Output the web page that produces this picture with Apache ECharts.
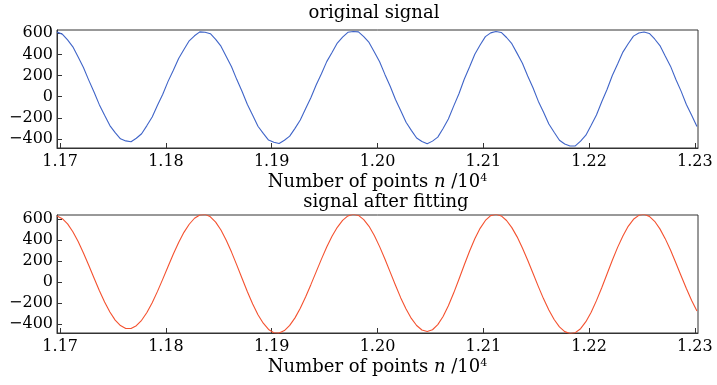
<!DOCTYPE html>
<html>
<head>
<meta charset="utf-8">
<script src="https://cdn.jsdelivr.net/npm/echarts@6/dist/echarts.min.js"></script>
<style>
html,body{margin:0;padding:0;background:#fff;}
#chart{width:717px;height:385px;}
</style>
</head>
<body>
<div id="chart"></div>
<script>
// sample positions (units of 10^4 points)
const X_START = 1.1697;
const X_STEP = 0.0005;

const xTicks = [1.17, 1.18, 1.19, 1.20, 1.21, 1.22, 1.23];
const yTicks = [-400, -200, 0, 200, 400, 600];

const originalSignal = [
  611, 592, 537, 472, 375, 276, 157, 45, -75, -176, -273, -340, -398, -418,
  -426, -393, -350, -273, -191, -81, 23, 145, 250, 362, 447, 529, 576, 613,
  610, 596, 542, 478, 381, 284, 162, 49, -74, -176, -279, -347, -410, -431,
  -442, -412, -373, -299, -220, -113, -10, 111, 218, 332, 419, 508, 563, 609, 617,
  613, 568, 513, 423, 331, 211, 99, -27, -132, -241, -318, -391, -423,
  -444, -420, -382, -301, -211, -89, 28, 165, 281, 402, 489, 568, 604,
  617, 608, 560, 502, 410, 316, 196, 85, -42, -147, -258, -336, -412, -447, -466,
  -465, -420, -364, -270, -173, -48, 68, 201, 310, 422, 501, 573, 603,
  612, 598, 546, 484, 386, 289, 165, 53, -74, -176, -281
];

const fittedSignal = [
  628, 603, 553, 479, 386, 277, 159, 38, -81, -190, -285, -362, -414, -442,
  -442, -415, -364, -290, -197, -89, 28, 148, 266, 376, 473, 550, 607, 638,
  644, 621, 570, 495, 398, 285, 161, 34, -92, -209, -311, -392, -451, -483,
  -486, -462, -413, -341, -249, -143, -25, 97, 218, 333, 435, 521, 587, 629, 645,
  634, 594, 530, 442, 337, 219, 94, -31, -151, -256, -346, -414, -456,
  -470, -454, -405, -328, -226, -105, 27, 162, 293, 412, 511, 586, 632,
  645, 629, 586, 518, 430, 324, 207, 83, -41, -160, -266, -357, -427, -472, -491,
  -482, -444, -377, -287, -177, -54, 77, 207, 330, 439, 530, 597, 635,
  645, 625, 578, 506, 413, 305, 184, 60, -62, -176, -276
];

const titles = ['original signal', 'signal after fitting'];

function pairs(vals) {
  return vals.map((v, i) => [+(X_START + i * X_STEP).toFixed(4), v]);
}

const FONT = 'DejaVu Serif';
const INK = '#000';
const BOX = '#333';

function xAxisFor(idx) {
  return {
    type: 'value', gridIndex: idx, min: 1.1697, max: 1.2303,
    axisLine: {show: true, onZero: false, lineStyle: {color: BOX, width: 1}},
    axisTick: {show: true, inside: true, length: 5, customValues: xTicks, lineStyle: {color: BOX}},
    axisLabel: {customValues: xTicks, formatter: v => v.toFixed(2), color: INK,
      fontFamily: FONT, fontSize: 16, margin: 6},
    splitLine: {show: false},
    name: '{a|Number of points }{i|n}{a| /10}{s|4}',
    nameLocation: 'middle', nameGap: 25,
    nameTextStyle: {
      rich: {
        a: {fontFamily: FONT, fontSize: 18, color: INK},
        i: {fontFamily: FONT, fontSize: 18, fontStyle: 'italic', color: INK},
        s: {fontFamily: FONT, fontSize: 11, color: INK, verticalAlign: 'top'}
      }
    }
  };
}

function yAxisFor(idx, mn, mx) {
  return {
    type: 'value', gridIndex: idx, min: mn, max: mx,
    axisLine: {show: true, onZero: false, lineStyle: {color: BOX, width: 1}},
    axisTick: {show: true, inside: true, length: 5, customValues: yTicks, lineStyle: {color: BOX}},
    axisLabel: {customValues: yTicks, formatter: v => String(v).replace('-', '\u2212'),
      color: INK, fontFamily: FONT, fontSize: 16, margin: 4},
    splitLine: {show: false}
  };
}

const chart = echarts.init(document.getElementById('chart'), null, {renderer: 'canvas'});
chart.setOption({
  animation: false,
  backgroundColor: '#fff',
  title: [
    {text: titles[0], left: 374, top: 4, textAlign: 'center', padding: 0,
      textStyle: {fontFamily: FONT, fontSize: 18, fontWeight: 'normal', color: INK}},
    {text: titles[1], left: 386, top: 193, textAlign: 'center', padding: 0,
      textStyle: {fontFamily: FONT, fontSize: 18, fontWeight: 'normal', color: INK}}
  ],
  grid: [
    {left: 57, top: 30, width: 641, height: 118, show: true, borderColor: BOX, borderWidth: 1, containLabel: false},
    {left: 57, top: 215, width: 641, height: 118, show: true, borderColor: BOX, borderWidth: 1, containLabel: false}
  ],
  xAxis: [xAxisFor(0), xAxisFor(1)],
  yAxis: [yAxisFor(0, -485, 631), yAxisFor(1, -485, 638)],
  series: [
    {type: 'line', xAxisIndex: 0, yAxisIndex: 0, data: pairs(originalSignal), showSymbol: false,
      lineStyle: {color: '#3f64c8', width: 1.1}, clip: true},
    {type: 'line', xAxisIndex: 1, yAxisIndex: 1, data: pairs(fittedSignal), showSymbol: false,
      lineStyle: {color: '#f4512f', width: 1.1}, clip: true}
  ]
});
</script>
</body>
</html>
